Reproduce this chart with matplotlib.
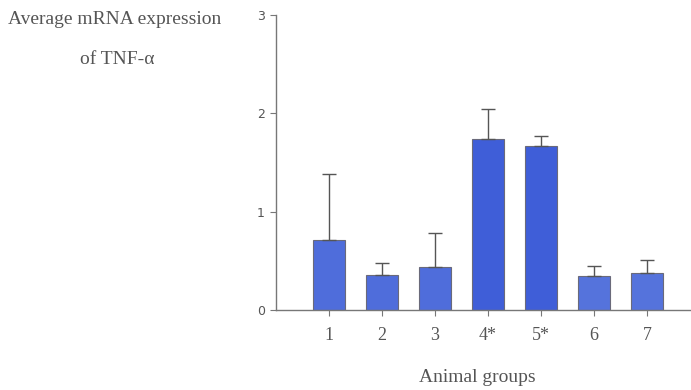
import matplotlib
matplotlib.use("Agg")
import matplotlib.pyplot as plt
import numpy as np

groups = ["1", "2", "3", "4*", "5*", "6", "7"]
means = [0.71, 0.36, 0.44, 1.735, 1.67, 0.35, 0.38]
errors = [0.67, 0.12, 0.34, 0.305, 0.10, 0.10, 0.13]
yticks = [0, 1, 2, 3]

fig = plt.figure(figsize=(6.91, 3.90), dpi=100)
ax = fig.add_axes([276/691, 80/390, 415/691, 295/390])

x = np.arange(1, len(groups) + 1)
colors = ["#4f6ddb", "#4f6ddb", "#4f6ddb", "#3f5ed8", "#3f5ed8", "#5573dc", "#5573dc"]
ax.bar(x, means, width=0.6, color=colors, edgecolor="#6a6a7a", linewidth=0.8,
       yerr=[np.zeros(len(errors)), errors], ecolor="#555555",
       error_kw=dict(elinewidth=1.0, capsize=5, capthick=1.0), zorder=2)

ax.set_xlim(0, 415/53)
ax.set_ylim(0, 3)
ax.set_xticks(x)
ax.set_xticklabels(groups, family="Liberation Serif", fontsize=13, color="#555555")
ax.set_yticks(yticks)
ax.set_yticklabels([str(v) for v in yticks], family="DejaVu Sans", fontsize=9, color="#555555")
ax.tick_params(axis="x", length=4, width=0.8, color="#777777", pad=8)
ax.tick_params(axis="y", length=4, width=0.8, color="#777777", pad=4)
for s in ["top", "right"]:
    ax.spines[s].set_visible(False)
for s in ["left", "bottom"]:
    ax.spines[s].set_color("#777777")
    ax.spines[s].set_linewidth(1.0)

fig.text(115/691, 1 - 20/390, "Average mRNA expression", family="Liberation Serif",
         fontsize=14, color="#555555", ha="center", va="center")
fig.text(117/691, 1 - 60/390, "of TNF-\u03b1", family="Liberation Serif",
         fontsize=14, color="#555555", ha="center", va="center")
fig.text(477/691, 1 - 378/390, "Animal groups", family="Liberation Serif",
         fontsize=14, color="#555555", ha="center", va="center")

fig.savefig("out.png", dpi=100)
